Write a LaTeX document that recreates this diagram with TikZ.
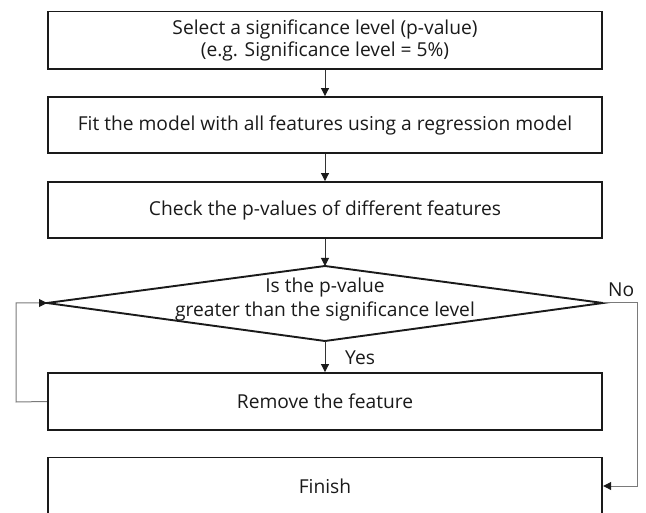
\documentclass[tikz,border=0pt]{standalone}
\usepackage{fontspec}
\setmainfont{Open Sans}
\usetikzlibrary{arrows.meta}

\definecolor{ink}{HTML}{1A1A1A}
\definecolor{wire}{HTML}{333333}
\definecolor{loopwire}{HTML}{7A7A7A}

\tikzset{
  stepbox/.style={draw=ink, line width=1.9pt, rectangle, minimum width=554.5pt,
    inner sep=0pt, align=center, text=ink, font=\fontsize{19.2}{21.7}\selectfont},
  plain/.style={inner sep=0pt, align=center, text=ink, font=\fontsize{19.2}{24}\selectfont},
  flow/.style={draw=wire, line width=1pt, -{Triangle[length=8pt,width=8pt,color=ink]}},
  back/.style={draw=loopwire, line width=1pt, -{Triangle[length=8pt,width=8pt,color=ink]}},
}

\begin{document}
\begin{tikzpicture}[x=1pt, y=-1pt]
  \useasboundingbox (0,0) rectangle (646,513);
  \clip (0,0) rectangle (646,513);

  % process boxes
  \node[stepbox, minimum height=57.5pt] (sel) at (325,40.3)
    {Select a significance level (p-value)\\(e.g. Significance level = 5\%)};
  \node[stepbox, minimum height=56pt] (fit) at (325,125)
    {Fit the model with all features using a regression model};
  \node[stepbox, minimum height=56pt] (chk) at (325,210)
    {Check the p-values of different features};
  \node[stepbox, minimum height=57pt] (rem) at (325,401.5)
    {Remove the feature};
  \node[stepbox, minimum height=57pt] (fin) at (325,486)
    {Finish};

  % decision diamond
  \coordinate (dT) at (325,266);
  \coordinate (dB) at (325,341);
  \coordinate (dL) at (47,303);
  \coordinate (dR) at (603,303);
  \draw[ink, line width=1.9pt, line join=miter] (dT) -- (dR) -- (dB) -- (dL) -- cycle;
  \node[plain] (dec) at (325,300) {Is the p-value\\greater than the significance level};

  % main flow
  \draw[flow] (sel.south) -- (fit.north);
  \draw[flow] (fit.south) -- (chk.north);
  \draw[flow] (chk.south) -- (dT);
  \draw[flow] (dB) -- (rem.north);
  \node[plain, anchor=base west] (yes) at (345,365) {Yes};

  % loop back after removing a feature
  \coordinate (lb) at (16,402);
  \draw[back] (rem.west) -- (lb) |- (dL);

  % exit when no p-value is above the level
  \coordinate (rt) at (637,303);
  \draw[back] (dR) -- (rt) |- (fin.east);
  \node[plain, anchor=base west] (no) at (608,297) {No};
\end{tikzpicture}
\end{document}
